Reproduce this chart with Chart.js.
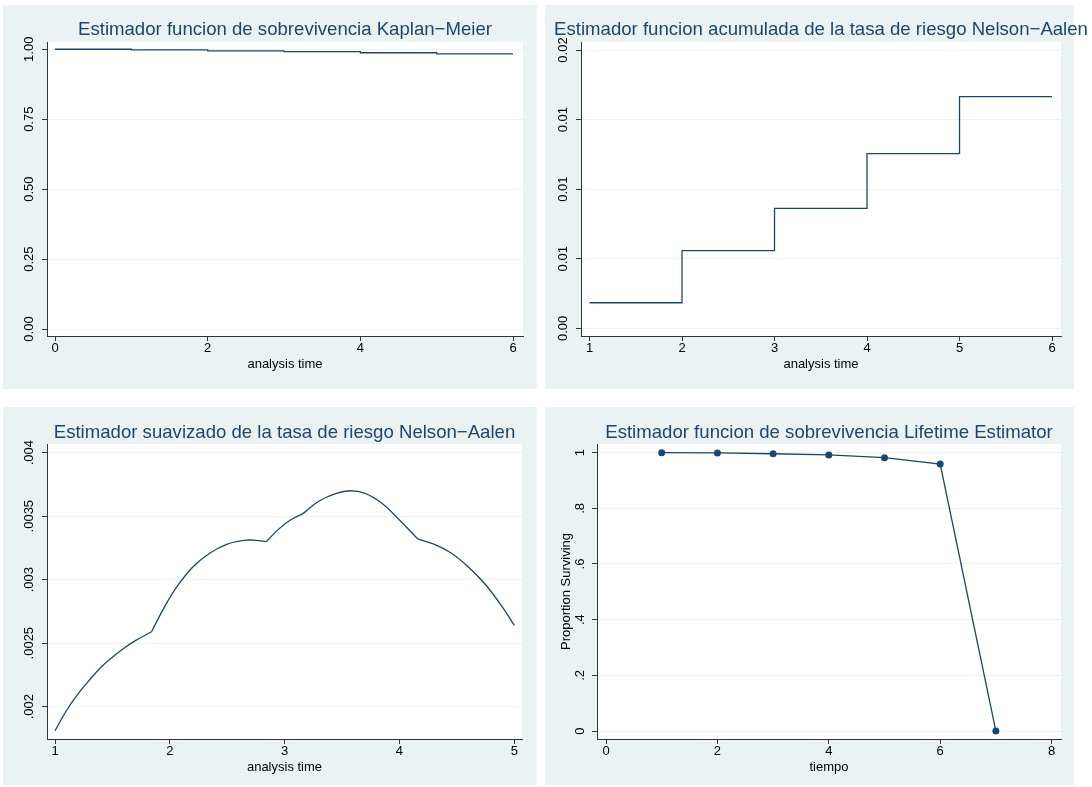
<!DOCTYPE html>
<html lang="es">
<head>
  <meta charset="UTF-8">
  <title>Estimadores de sobrevivencia</title>
  <script src="https://cdn.jsdelivr.net/npm/chart.js@4.4.0/dist/chart.umd.min.js"></script>
  <style>
    body { margin: 0; background: #fff; width: 1092px; height: 787px; position: relative; overflow: hidden; }
    .bg { position: absolute; background: #eaf2f3; }
    canvas { position: absolute; }
  </style>
</head>
<body>
  <div class="bg" style="left:3px;top:5px;width:534px;height:384px"></div>
  <div class="bg" style="left:545px;top:5px;width:529px;height:384px"></div>
  <div class="bg" style="left:3px;top:407px;width:534px;height:378px"></div>
  <div class="bg" style="left:545px;top:407px;width:529px;height:378px"></div>

  <canvas id="km" width="534" height="384" style="left:3px;top:5px"></canvas>
  <canvas id="na" width="547" height="384" style="left:545px;top:5px"></canvas>
  <canvas id="hz" width="534" height="378" style="left:3px;top:407px"></canvas>
  <canvas id="lt" width="547" height="378" style="left:545px;top:407px"></canvas>

  <script>
    /* Kaplan-Meier survival (step function). */
    const kmTime = [0, 1, 2, 3, 4, 5, 6]
    const kmSurv = [1, 0.998, 0.9944, 0.9914, 0.9875, 0.9835, 0.9835]
    const kmTicksX = [0, 2, 4, 6]
    const kmTicksY = [0, 0.25, 0.5, 0.75, 1]
    const kmLabelsY = ["0.00", "0.25", "0.50", "0.75", "1.00"]

    /* Nelson-Aalen cumulative hazard (step function). */
    const naTime = [1, 2, 3, 4, 5, 6]
    const naCumHaz = [0.00184, 0.00558, 0.00862, 0.01255, 0.01665, 0.01665]
    const naTicksX = [1, 2, 3, 4, 5, 6]
    const naTicksY = [0, 0.005, 0.01, 0.015, 0.02]
    const naLabelsY = ["0.00", "0.01", "0.01", "0.01", "0.02"]

    /* Smoothed hazard; it has corners at hzKinks. */
    const hzTime = [1.00, 1.10, 1.20, 1.30, 1.40, 1.50, 1.60, 1.70, 1.84,
                    1.95, 2.05, 2.20, 2.35, 2.50, 2.65, 2.75, 2.84,
                    2.95, 3.05, 3.16,
                    3.30, 3.45, 3.57, 3.70, 3.85, 4.00, 4.16,
                    4.30, 4.45, 4.60, 4.75, 4.90, 5.00]
    const hzValue = [0.00181, 0.00197, 0.00210, 0.00221, 0.00231, 0.00239, 0.00246, 0.00252, 0.00259,
                     0.00278, 0.00293, 0.00310, 0.00321, 0.00328, 0.00331, 0.00331, 0.00330,
                     0.00340, 0.00347, 0.00352,
                     0.00362, 0.00368, 0.00370, 0.00368, 0.00360, 0.00347, 0.00332,
                     0.00328, 0.00321, 0.00310, 0.00296, 0.00278, 0.00264]
    const hzKinks = [1.84, 2.84, 3.16, 4.16]
    const hzTicksX = [1, 2, 3, 4, 5]
    const hzTicksY = [0.002, 0.0025, 0.003, 0.0035, 0.004]
    const hzLabelsY = [".002", ".0025", ".003", ".0035", ".004"]

    /* Life table survival. */
    const ltTime = [1, 2, 3, 4, 5, 6, 7]
    const ltSurv = [1, 0.999, 0.996, 0.992, 0.982, 0.959, 0]
    const ltTicksX = [0, 2, 4, 6, 8]
    const ltTicksY = [0, 0.2, 0.4, 0.6, 0.8, 1]
    const ltLabelsY = ["0", ".2", ".4", ".6", ".8", "1"]

    const navy = "#1a476f"
    const axisColor = "#333333"
    const gridColor = "#eaf2f3"
    const font = { family: "'Liberation Sans', Arial, sans-serif", size: 13 }

    /* White plot region + title centred over it. */
    const panelPlugin = {
      id: "panel",
      beforeDraw(chart, args, opts) {
        const { ctx, chartArea: a } = chart
        ctx.save()
        ctx.fillStyle = "#ffffff"
        ctx.fillRect(a.left, a.top, a.right - a.left, a.bottom - a.top)
        ctx.font = "18.6px 'Liberation Sans', Arial, sans-serif"
        ctx.fillStyle = navy
        ctx.textAlign = "center"
        ctx.textBaseline = "alphabetic"
        ctx.fillText(opts.text, (a.left + a.right) / 2, opts.y)
        ctx.restore()
      }
    }

    function toPoints(xs, ys) {
      return xs.map((x, i) => ({ x: x, y: ys[i] }))
    }

    /* Split a curve into pieces at the corner points (corner shared by both pieces). */
    function splitAt(xs, ys, kinks) {
      const pieces = []
      let cur = []
      xs.forEach((x, i) => {
        cur.push({ x: x, y: ys[i] })
        if (kinks.includes(x)) {
          pieces.push(cur)
          cur = [{ x: x, y: ys[i] }]
        }
      })
      if (cur.length > 1) pieces.push(cur)
      return pieces
    }

    function lineDataset(points, p) {
      return {
        data: points,
        borderColor: navy,
        borderWidth: 1.3,
        pointRadius: p.radius || 0,
        pointBackgroundColor: navy,
        pointBorderWidth: 0,
        stepped: p.stepped || false,
        tension: p.smooth ? 0.4 : 0,
        fill: false
      }
    }

    function panel(id, p) {
      return new Chart(document.getElementById(id), {
        type: "line",
        data: { datasets: p.pieces.map(pts => lineDataset(pts, p)) },
        options: {
          responsive: false,
          animation: false,
          layout: { padding: { top: 37, right: p.padRight, left: 0, bottom: 0 } },
          plugins: {
            legend: { display: false },
            tooltip: { enabled: false },
            panel: { text: p.title, y: p.titleY }
          },
          scales: {
            x: {
              type: "linear",
              min: p.xMin,
              max: p.xMax,
              afterBuildTicks: s => { s.ticks = p.xTicks.map(v => ({ value: v })) },
              afterFit: s => { s.height = p.xHeight },
              grid: { drawOnChartArea: false, tickLength: 5, tickColor: axisColor },
              border: { color: axisColor, width: 1 },
              ticks: { autoSkip: false, maxRotation: 0, padding: 0, color: "#000", font: font, callback: v => String(v) },
              title: { display: true, text: p.xTitle, color: "#000", font: font, padding: { top: 0, bottom: p.xTitlePad } }
            },
            y: {
              min: p.yMin,
              max: p.yMax,
              afterBuildTicks: s => { s.ticks = p.yTicks.map(v => ({ value: v })) },
              afterFit: s => { s.width = p.yWidth },
              grid: { color: gridColor, tickLength: 5, tickColor: axisColor },
              border: { color: axisColor, width: 1 },
              ticks: {
                autoSkip: false, minRotation: 90, maxRotation: 90, crossAlign: "center",
                padding: p.yPad, color: "#000", font: font,
                callback: (v, i) => p.yLabels[i]
              },
              title: p.yTitle
                ? { display: true, text: p.yTitle, color: "#000", font: font, padding: { top: 14, bottom: 0 } }
                : { display: false }
            }
          }
        },
        plugins: [panelPlugin]
      })
    }

    panel("km", {
      title: "Estimador funcion de sobrevivencia Kaplan\u2212Meier", titleY: 29.5,
      pieces: [toPoints(kmTime, kmSurv)], stepped: "before",
      xMin: -0.105, xMax: 6.131, xTicks: kmTicksX, xTitle: "analysis time",
      yMin: -0.025, yMax: 1.026, yTicks: kmTicksY, yLabels: kmLabelsY,
      padRight: 14, xHeight: 53, yWidth: 44, yPad: 0, xTitlePad: 17
    })

    panel("na", {
      title: "Estimador funcion acumulada de la tasa de riesgo Nelson\u2212Aalen", titleY: 29.5,
      pieces: [toPoints(naTime, naCumHaz)], stepped: "before",
      xMin: 0.908, xMax: 6.097, xTicks: naTicksX, xTitle: "analysis time",
      yMin: -0.00055, yMax: 0.020575, yTicks: naTicksY, yLabels: naLabelsY,
      padRight: 31, xHeight: 53, yWidth: 36, yPad: 0, xTitlePad: 17
    })

    panel("hz", {
      title: "Estimador suavizado de la tasa de riesgo Nelson\u2212Aalen", titleY: 30.5,
      pieces: splitAt(hzTime, hzValue, hzKinks), smooth: true,
      xMin: 0.930, xMax: 5.067, xTicks: hzTicksX, xTitle: "analysis time",
      yMin: 0.0017454, yMax: 0.0040683, yTicks: hzTicksY, yLabels: hzLabelsY,
      padRight: 15, xHeight: 46, yWidth: 44, yPad: -4, xTitlePad: 9.5
    })

    panel("lt", {
      title: "Estimador funcion de sobrevivencia Lifetime Estimator", titleY: 30.5,
      pieces: [toPoints(ltTime, ltSurv)], radius: 3.5,
      xMin: -0.1616, xMax: 8.169, xTicks: ltTicksX, xTitle: "tiempo",
      yMin: -0.0287, yMax: 1.0311, yTicks: ltTicksY, yLabels: ltLabelsY,
      yTitle: "Proportion Surviving",
      padRight: 31, xHeight: 46, yWidth: 52, yPad: 6, xTitlePad: 9.5
    })
  </script>
</body>
</html>
